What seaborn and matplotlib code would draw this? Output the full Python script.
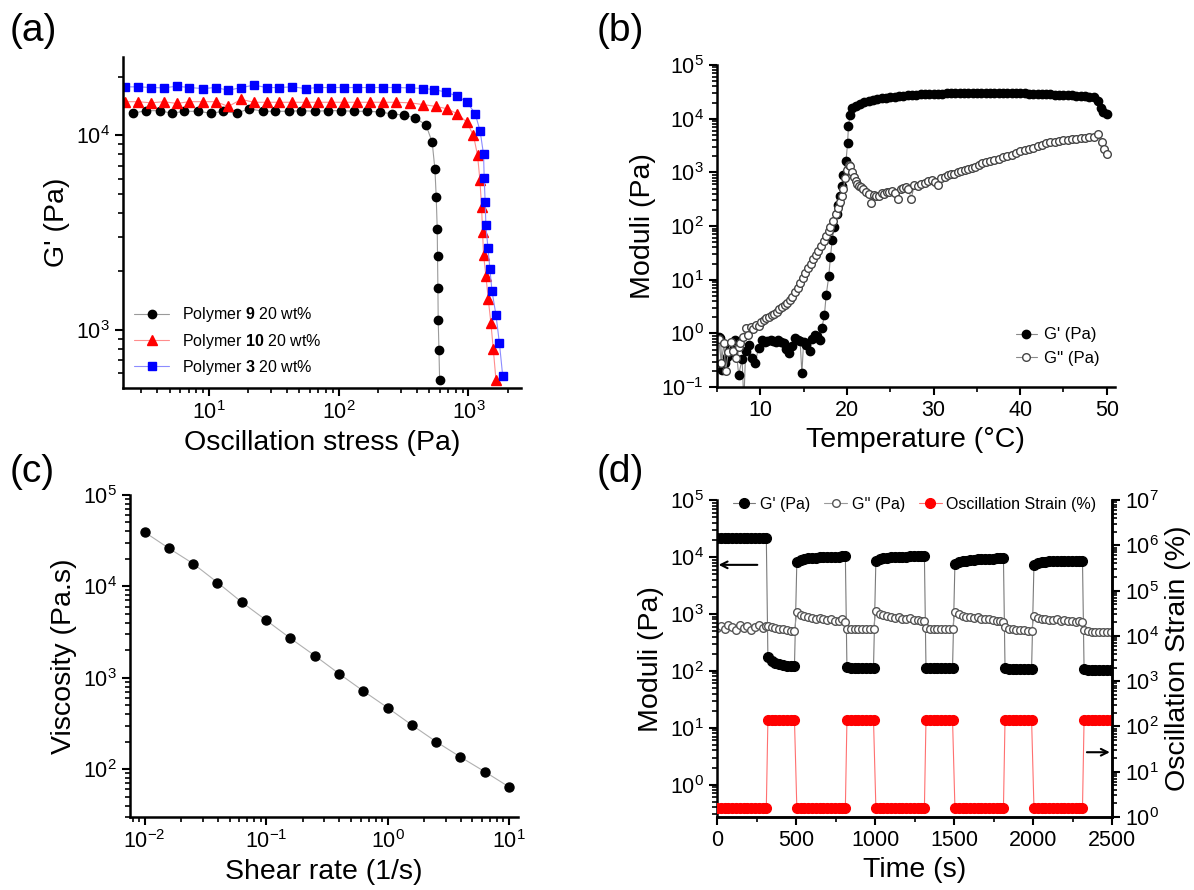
import numpy as np
import matplotlib
matplotlib.use("Agg")
import matplotlib.pyplot as plt
from matplotlib.ticker import LogLocator, NullFormatter, MultipleLocator
import seaborn as sns

# ---------------- (a) stress sweep ----------------
stress_9 = [2.6, 3.3, 4.2, 5.2, 6.5, 8.3, 10.4, 13.0, 16.4, 20.5, 26.4, 32.7, 41.2, 51.7, 65.6, 83.2,
            104, 131, 165, 207, 258, 321, 390, 472, 526, 552, 565, 575, 578, 582, 585, 593, 600]
g_9 = [13000, 13400, 13400, 13000, 13300, 13300, 13000, 13300, 13000, 13700, 13300, 13300, 13300,
       13400, 13300, 13400, 13400, 13300, 13300, 13200, 12900, 12700, 12300, 11300, 9200, 6700, 4800,
       3300, 2400, 1640, 1130, 785, 553]
stress_10 = [2.28, 2.86, 3.6, 4.5, 5.7, 7.1, 9.0, 11.3, 14.2, 17.8, 22.4, 28, 35, 44, 56, 70, 88, 111,
             139, 175, 220, 276, 357, 448, 558, 688, 822, 971, 1093, 1175, 1225, 1262, 1284, 1307,
             1362, 1421, 1490, 1554, 1630]
g_10 = [14900, 14900, 14700, 14900, 14600, 14900, 14900, 14900, 14100, 15300, 14800, 14800, 14800,
        14800, 14800, 14800, 14800, 14800, 14800, 14800, 14800, 14800, 14700, 14400, 14100, 13700,
        12900, 11700, 10000, 7900, 5900, 4300, 3200, 2440, 1900, 1440, 1080, 795, 550]
stress_3 = [2.28, 2.86, 3.6, 4.5, 5.7, 7.1, 9.0, 11.3, 14.2, 17.8, 22.4, 28, 35, 44, 56, 70, 88, 111,
            139, 175, 220, 276, 357, 448, 542, 667, 813, 971, 1127, 1231, 1307, 1322, 1345, 1362,
            1412, 1464, 1517, 1630, 1730, 1836]
g_3 = [17760, 17760, 17620, 17550, 17900, 17620, 17410, 17620, 17060, 17620, 18120, 17620, 17620,
       17760, 17410, 17620, 17620, 17620, 17620, 17620, 17620, 17620, 17550, 17410, 17200, 16710,
       15950, 14860, 12940, 10490, 7980, 6050, 4530, 3460, 2650, 2050, 1590, 1190, 860, 580]

# ---------------- (b) temperature sweep ----------------
temp_g1 = [5.2, 5.4, 5.6, 5.9, 6.2, 6.5, 6.8, 7.1, 7.5, 7.9, 8.1, 8.3, 8.7, 9.0, 9.4, 9.8, 10.2, 10.5,
           10.8, 11.2, 11.5, 11.8, 12.1, 12.4, 12.7, 13.0, 13.3, 13.7, 14.0, 14.3, 14.6, 14.8, 15.0,
           15.3, 15.7, 16.0, 16.3, 16.6, 16.9, 17.1, 17.4, 17.6, 17.9, 18.1, 18.3, 18.5, 18.8, 19.0,
           19.2, 19.4, 19.6, 19.9, 20.07, 20.18, 20.35, 20.6, 21.0, 21.5, 22.0,
           22.5, 23.0, 23.5, 24.0, 24.5, 25.0, 25.5, 26.0, 26.5, 27.0, 27.5, 28.0, 28.5, 29.0, 29.5,
           30.0, 30.5, 31.0, 31.5, 32.0, 32.5, 33.0, 33.5, 34.0, 34.5, 35.0, 35.5, 36.0, 36.5, 37.0,
           37.5, 38.0, 38.5, 39.0, 39.5, 40.0, 40.5, 41.0, 41.5, 42.0, 42.5, 43.0, 43.5, 44.0, 44.5,
           45.0, 45.5, 46.0, 46.5, 47.0, 47.5, 48.0, 48.5, 49.0, 49.3, 49.6, 50.0]
g1 = [0.85, 0.81, 0.21, 0.28, 0.36, 0.54, 0.45, 0.76, 0.17, 0.33, 0.05, 0.47, 0.62, 0.35, 0.28, 0.54,
      0.76, 0.70, 0.71, 0.74, 0.71, 0.70, 0.76, 0.70, 0.66, 0.52, 0.43, 0.58, 0.82, 0.75, 0.71, 0.18,
      0.70, 0.62, 0.48, 0.80, 0.95, 0.88, 0.75, 1.25, 2.2, 5.1, 11.5, 27, 55, 95, 170, 245, 360, 550,
      890, 1660, 3460, 7300, 11700, 15500, 17500, 19000, 20300,
      21300, 22300, 23100, 23900, 24600, 25200, 25700, 26200, 26700, 27100, 27500, 27900, 28200,
      28500, 28800, 29000, 29200, 29400, 29600, 29800, 29900, 30000, 30100, 30200, 30200, 30300,
      30300, 30300, 30300, 30200, 30200, 30100, 30000, 29900, 29800, 29600, 29500, 29300, 29100,
      28900, 28700, 28500, 28300, 28100, 27900, 27600, 27400, 27100, 26800, 26500, 26100, 25600,
      24800, 21000, 15500, 13500, 12300]
temp_g2 = [5.2, 5.5, 5.8, 6.0, 6.3, 6.6, 6.9, 7.2, 7.5, 7.7, 8.0, 8.3, 8.6, 8.9, 9.2, 9.5, 9.8, 10.1,
           10.4, 10.7, 11.0, 11.3, 11.6, 11.9, 12.2, 12.5, 12.8, 13.1, 13.4, 13.7, 14.0, 14.3, 14.6,
           14.9, 15.2, 15.5, 15.8, 16.1, 16.4, 16.7, 17.0, 17.3, 17.6, 17.9, 18.1, 18.4, 18.7, 19.0,
           19.2, 19.4, 19.6, 19.8, 20.0, 20.2, 20.4, 20.6, 20.8, 21.0, 21.2, 21.4, 21.6, 21.9, 22.2,
           22.5, 22.8, 23.1, 23.4, 23.7, 24.0, 24.3, 24.6, 24.9, 25.2, 25.5, 25.9, 26.2, 26.5, 26.8,
           27.1, 27.4, 27.8, 28.2, 28.6, 29.0, 29.4, 29.8, 30.2, 30.5, 30.9, 31.3, 31.7, 32.0, 32.4,
           32.8, 33.2, 33.6, 34.0, 34.4, 34.8, 35.2, 35.6, 36.0, 36.5, 37.0, 37.5, 38.0, 38.5, 39.0,
           39.5, 40.0, 40.5, 41.0, 41.5, 42.0, 42.5, 43.0, 43.5, 44.0, 44.5, 45.0, 45.5, 46.0, 46.5,
           47.0, 47.5, 48.0, 48.5, 49.0, 49.4, 49.7, 50.0]
g2 = [0.80, 0.28, 0.66, 0.20, 0.45, 0.70, 0.47, 0.35, 0.55, 0.66, 0.87, 1.26, 0.95, 1.30, 1.20, 1.45,
      1.40, 1.60, 1.78, 1.90, 2.05, 2.2, 2.35, 2.5, 2.8, 3.1, 3.4, 3.7, 4.2, 4.8, 5.8, 7.0, 8.8, 10.8,
      13.5, 16.5, 20, 24, 29, 35, 43, 53, 64, 80, 97, 125, 165, 220, 280, 370, 500, 800, 1100, 1400,
      1300, 1000, 830, 700, 620, 560, 540, 480, 440, 400, 265, 380, 360, 370, 420, 400, 430, 440, 450,
      420, 325, 480, 520, 540, 500, 325, 580, 560, 620, 640, 680, 710, 650, 580, 780, 830, 880, 920,
      950, 1000, 1050, 1100, 1150, 1200, 1260, 1380, 1470, 1540, 1600, 1680, 1780, 1900, 2020, 2150,
      2300, 2450, 2600, 2750, 2900, 3050, 3250, 3450, 3600, 3750, 3850, 3950, 4050, 4150, 4250,
      4350, 4450, 4550, 4650, 5100, 3700, 2700, 2200]

# ---------------- (c) flow curve ----------------
shear = [0.01, 0.0158, 0.0251, 0.0398, 0.0631, 0.1, 0.158, 0.251, 0.398, 0.631, 1.0, 1.58, 2.51,
         3.98, 6.31, 10.0]
visc = [39100, 26100, 17700, 11000, 6700, 4260, 2710, 1750, 1110, 717, 471, 305, 200, 136, 94, 64]

# ---------------- (d) step strain recovery ----------------
time_s = [0, 24, 48, 72, 96, 120, 144, 168, 192, 216, 240, 264, 288, 312,
          322, 346, 370, 394, 418, 442, 466, 490,
          505, 529, 553, 577, 601, 625, 649, 673, 697, 721, 745, 769, 793, 812,
          822, 846, 870, 894, 918, 942, 966, 990,
          1005, 1029, 1053, 1077, 1101, 1125, 1149, 1173, 1197, 1221, 1245, 1269, 1293, 1312,
          1322, 1346, 1370, 1394, 1418, 1442, 1466, 1490,
          1505, 1529, 1553, 1577, 1601, 1625, 1649, 1673, 1697, 1721, 1745, 1769, 1793, 1812,
          1822, 1846, 1870, 1894, 1918, 1942, 1966, 1990,
          2005, 2029, 2053, 2077, 2101, 2125, 2149, 2173, 2197, 2221, 2245, 2269, 2293, 2312,
          2322, 2346, 2370, 2394, 2418, 2442, 2466, 2490]
gp_d = [21500, 21600, 21600, 21700, 21700, 21700, 21800, 21800, 21800, 21800, 21800, 21900, 21900, 21800,
        175, 150, 138, 130, 126, 123, 121, 120,
        8200, 8800, 9200, 9500, 9700, 9800, 9900, 10000, 10100, 10100, 10200, 10200, 10300, 10300,
        115, 113, 113, 112, 112, 112, 112, 112,
        8700, 9200, 9500, 9700, 9900, 10000, 10100, 10200, 10200, 10300, 10300, 10400, 10400, 10400,
        114, 113, 113, 112, 112, 112, 112, 112,
        7600, 8200, 8500, 8700, 8900, 9000, 9100, 9200, 9300, 9400, 9400, 9500, 9500, 9600,
        112, 110, 110, 109, 108, 108, 108, 108,
        7400, 7900, 8100, 8300, 8400, 8500, 8500, 8600, 8600, 8600, 8700, 8700, 8700, 8700,
        106, 104, 103, 103, 102, 102, 102, 102]
gpp_d = [560, 620, 540, 650, 600, 530, 640, 560, 620, 520, 600, 640, 560, 620,
         620, 590, 570, 550, 535, 520, 510, 505,
         1070, 960, 920, 880, 850, 830, 860, 800, 790, 820, 760, 750, 800, 730,
         545, 540, 540, 540, 538, 538, 536, 536,
         1140, 1000, 950, 910, 880, 850, 880, 820, 800, 840, 780, 790, 760, 760,
         560, 545, 540, 540, 540, 538, 538, 536,
         1100, 980, 930, 900, 870, 850, 880, 820, 810, 830, 770, 760, 740, 710,
         580, 550, 540, 530, 520, 515, 510, 505,
         910, 850, 830, 800, 790, 780, 800, 760, 770, 750, 740, 730, 760, 710,
         520, 500, 490, 485, 482, 480, 478, 478]
strain_d = [1.6, 1.6, 1.6, 1.6, 1.6, 1.6, 1.6, 1.6, 1.6, 1.6, 1.6, 1.6, 1.6, 1.6,
            140, 140, 140, 140, 140, 140, 140, 140,
            1.6, 1.6, 1.6, 1.6, 1.6, 1.6, 1.6, 1.6, 1.6, 1.6, 1.6, 1.6, 1.6, 1.6,
            140, 140, 140, 140, 140, 140, 140, 140,
            1.6, 1.6, 1.6, 1.6, 1.6, 1.6, 1.6, 1.6, 1.6, 1.6, 1.6, 1.6, 1.6, 1.6,
            140, 140, 140, 140, 140, 140, 140, 140,
            1.6, 1.6, 1.6, 1.6, 1.6, 1.6, 1.6, 1.6, 1.6, 1.6, 1.6, 1.6, 1.6, 1.6,
            140, 140, 140, 140, 140, 140, 140, 140,
            1.6, 1.6, 1.6, 1.6, 1.6, 1.6, 1.6, 1.6, 1.6, 1.6, 1.6, 1.6, 1.6, 1.6,
            140, 140, 140, 140, 140, 140, 140, 140]


sns.set_theme(style="ticks")
plt.rcParams.update({
    "axes.linewidth": 1.8, "axes.edgecolor": "black", "axes.labelcolor": "black",
    "text.color": "black", "xtick.color": "black", "ytick.color": "black",
    "xtick.direction": "out", "ytick.direction": "out",
    "xtick.major.size": 6, "xtick.major.width": 1.5, "xtick.minor.size": 3.5, "xtick.minor.width": 1.2,
    "ytick.major.size": 6, "ytick.major.width": 1.5, "ytick.minor.size": 3.5, "ytick.minor.width": 1.2,
    "xtick.labelsize": 15.5, "ytick.labelsize": 15.5, "axes.labelsize": 20.5,
    "mathtext.fontset": "custom", "mathtext.rm": "Liberation Sans",
    "mathtext.bf": "Liberation Sans:bold", "mathtext.it": "Liberation Sans:italic",
    "mathtext.default": "regular", "axes.unicode_minus": False,
})
plt.rcParams["font.family"] = ["Liberation Sans", "DejaVu Sans"]


def series(ax, x, y, line_c, face, edge, marker, ms, label=None, lw=0.8):
    sns.lineplot(x=x, y=y, ax=ax, color=line_c, linewidth=lw, marker=marker, markersize=ms,
                 markerfacecolor=face, markeredgecolor=edge, markeredgewidth=1.0,
                 estimator=None, sort=False, label=label, legend=False)


def log_ticks(axis):
    axis.set_major_locator(LogLocator(base=10, numticks=20))
    axis.set_minor_locator(LogLocator(base=10, subs=np.arange(2, 10) * 1.0, numticks=20))
    axis.set_minor_formatter(NullFormatter())


fig = plt.figure(figsize=(11.94, 8.90), dpi=100)
ax_a = fig.add_axes([0.103, 0.564, 0.333, 0.372])
ax_b = fig.add_axes([0.6005, 0.565, 0.333, 0.362])
ax_c = fig.add_axes([0.109, 0.082, 0.325, 0.362])
ax_d = fig.add_axes([0.6005, 0.082, 0.331, 0.356])

# (a)
ax_a.set_xscale("log")
ax_a.set_yscale("log")
series(ax_a, stress_9, g_9, "#9a9a9a", "black", "black", "o", 6, r"Polymer $\mathbf{9}$ 20 wt%")
series(ax_a, stress_10, g_10, "#ff8c8c", "red", "red", "^", 6.5, r"Polymer $\mathbf{10}$ 20 wt%")
series(ax_a, stress_3, g_3, "#8c8cff", "blue", "blue", "s", 5.5, r"Polymer $\mathbf{3}$ 20 wt%")
ax_a.set_xlim(2.19, 2520)
ax_a.set_ylim(503, 25300)
log_ticks(ax_a.xaxis)
log_ticks(ax_a.yaxis)
ax_a.set_xlabel("Oscillation stress (Pa)")
ax_a.set_ylabel("G' (Pa)")
ax_a.legend(loc="lower left", frameon=False, fontsize=11.5, handlelength=2.2,
            handletextpad=0.8, labelspacing=0.45, borderaxespad=0.3)
sns.despine(ax=ax_a)

# (b)
ax_b.set_yscale("log")
series(ax_b, temp_g1, g1, "#8a8a8a", "black", "black", "o", 6, "G' (Pa)")
series(ax_b, temp_g2, g2, "#8a8a8a", "white", "#444444", "o", 5.5, "G'' (Pa)")
ax_b.set_xlim(5, 50.9)
ax_b.set_ylim(0.1, 1e5)
ax_b.xaxis.set_major_locator(MultipleLocator(10))
ax_b.xaxis.set_minor_locator(MultipleLocator(5))
log_ticks(ax_b.yaxis)
ax_b.set_xlabel("Temperature (°C)")
ax_b.set_ylabel("Moduli (Pa)")
ax_b.legend(loc="lower right", bbox_to_anchor=(1.0, 0.02), frameon=False, fontsize=12,
            handlelength=1.3, handletextpad=0.4, labelspacing=0.5)
sns.despine(ax=ax_b)

# (c)
ax_c.set_xscale("log")
ax_c.set_yscale("log")
series(ax_c, shear, visc, "#b0b0b0", "black", "black", "o", 6.5)
ax_c.set_xlim(0.0076, 11.9)
ax_c.set_ylim(30, 1e5)
log_ticks(ax_c.xaxis)
log_ticks(ax_c.yaxis)
ax_c.set_xlabel("Shear rate (1/s)")
ax_c.set_ylabel("Viscosity (Pa.s)")
sns.despine(ax=ax_c)

# (d)
ax_d.set_yscale("log")
series(ax_d, time_s, gp_d, "#7a7a7a", "black", "black", "o", 7, "G' (Pa)")
series(ax_d, time_s, gpp_d, "#9a9a9a", "white", "#555555", "o", 5.5, "G'' (Pa)")
ax_d.set_xlim(0, 2500)
ax_d.set_ylim(0.27, 1e5)
ax_d.xaxis.set_major_locator(MultipleLocator(500))
ax_d.xaxis.set_minor_locator(MultipleLocator(250))
log_ticks(ax_d.yaxis)
ax_d.set_xlabel("Time (s)")
ax_d.set_ylabel("Moduli (Pa)")
ax2 = ax_d.twinx()
ax2.set_yscale("log")
series(ax2, time_s, strain_d, "#ff7070", "red", "red", "o", 7, "Oscillation Strain (%)")
ax2.set_ylim(1, 1e7)
log_ticks(ax2.yaxis)
ax2.set_ylabel("Oscillation Strain (%)")
for a in (ax_d, ax2):
    a.spines["top"].set_visible(False)
ax2.spines["left"].set_visible(False)
ax2.spines["right"].set_linewidth(1.8)
ax_d.annotate("", xy=(10, 7300), xytext=(255, 7300),
              arrowprops=dict(arrowstyle="->", color="black", lw=1.5, shrinkA=0, shrinkB=0))
ax2.annotate("", xy=(2485, 27), xytext=(2340, 27),
             arrowprops=dict(arrowstyle="->", color="black", lw=1.5, shrinkA=0, shrinkB=0))
h1, l1 = ax_d.get_legend_handles_labels()
h2, l2 = ax2.get_legend_handles_labels()
ax2.legend(h1 + h2, l1 + l2, loc="upper center", bbox_to_anchor=(0.5, 1.03), ncol=3, frameon=False,
           fontsize=11.5, handlelength=1.4, handletextpad=0.3, columnspacing=0.9, borderaxespad=0)

for txt, x, y in [("(a)", 0.008, 0.985), ("(b)", 0.5, 0.985), ("(c)", 0.008, 0.49), ("(d)", 0.5, 0.49)]:
    fig.text(x, y, txt, fontsize=28, va="top", ha="left")

fig.savefig("out.png", dpi=100)
